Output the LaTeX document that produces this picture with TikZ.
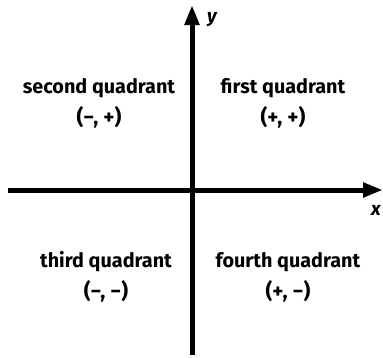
\documentclass[tikz,border=0pt]{standalone}
\usepackage{fontspec}
\setmainfont{Fira Sans}
\usepackage{tikz}
\usetikzlibrary{arrows.meta,positioning}

\tikzset{
  axis/.style={line width=5pt,-{Triangle[length=20pt,width=14pt]}},
  quad/.style={font=\fontsize{19.8}{20}\selectfont\bfseries,inner sep=0pt},
  sign/.style={font=\fontsize{21}{22}\selectfont\bfseries,inner sep=0pt},
  axlabel/.style={font=\fontsize{19}{20}\selectfont\bfseries\itshape,inner sep=0pt}
}

\begin{document}
\begin{tikzpicture}[x=1pt,y=-1pt]
  \useasboundingbox (0,0) rectangle (383,357);
  % axes
  \coordinate (xs) at (8,190);
  \coordinate (xe) at (383,190);
  \coordinate (ys) at (192,355);
  \coordinate (ye) at (192,5);
  \draw[axis] (xs) -- (xe);
  \draw[axis] (ys) -- (ye);
  \node[axlabel] (ylab) at (212,20) {y};
  \node[axlabel] (xlab) at (376,210) {x};
  % quadrants
  \node[quad] (q2) at (99,88) {second quadrant};
  \node[sign,below=8pt of q2] (s2) {(−, +)};
  \node[quad] (q1) at (283,88) {first quadrant};
  \node[sign,below=8pt of q1] (s1) {(+, +)};
  \node[quad] (q3) at (106,262) {third quadrant};
  \node[sign,below=8pt of q3] (s3) {(−, −)};
  \node[quad] (q4) at (288,262) {fourth quadrant};
  \node[sign,below=8pt of q4] (s4) {(+, −)};
\end{tikzpicture}
\end{document}
